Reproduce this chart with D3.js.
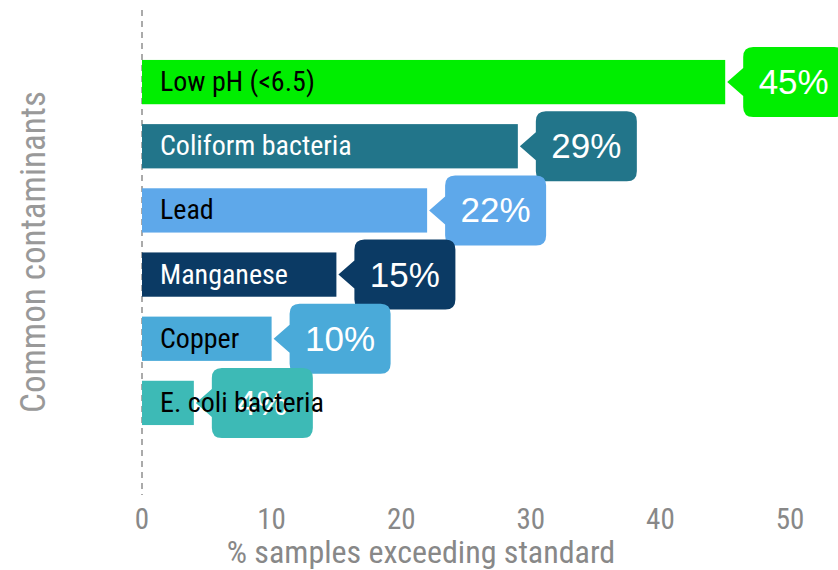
<!DOCTYPE html>
<html>
<head>
<meta charset="utf-8">
<script src="https://cdnjs.cloudflare.com/ajax/libs/d3/7.8.5/d3.min.js"></script>
<style>
    body { margin: 0; background: #fff; }
    .narrow { font-family: "Liberation Sans Narrow", "Roboto Condensed", "Arial Narrow", sans-serif; font-stretch: condensed; }
    .pct { font-family: "Liberation Sans", Arial, sans-serif; }
</style>
</head>
<body>
<div id="chart"></div>
<script>
var categories = ['Low pH (<6.5)', 'Coliform bacteria', 'Lead', 'Manganese', 'Copper', 'E. coli bacteria'];
var values = [45, 29, 22, 15, 10, 4];
var colors = ['#00ee00', '#22758a', '#5ea8ea', '#0b3a64', '#4aaad9', '#3dbab6'];
var labelColors = ['#000', '#fff', '#000', '#fff', '#000', '#000'];
var xTicks = [0, 10, 20, 30, 40, 50];

var width = 838, height = 570;

var svg = d3.select('#chart')
    .append('svg')
    .attr('width', width)
    .attr('height', height);

var x = d3.scaleLinear().domain([0, 50]).range([142, 790]);
var y = d3.scaleBand().domain(categories).range([50, 435])
    .paddingInner(0.31).paddingOuter(0.155);

// dashed zero line
svg.append('line')
    .attr('x1', x(0)).attr('x2', x(0))
    .attr('y1', 10).attr('y2', 495)
    .attr('stroke', '#aaa')
    .attr('stroke-width', 2)
    .attr('stroke-dasharray', '6,5');

var data = categories.map(function(c, i) {
    return { name: c, value: values[i], color: colors[i], label: labelColors[i] };
});

// bars
svg.selectAll('rect.bar')
    .data(data)
    .enter().append('rect')
    .attr('class', 'bar')
    .attr('x', x(0))
    .attr('y', function(d) { return y(d.name); })
    .attr('width', function(d) { return x(d.value) - x(0); })
    .attr('height', y.bandwidth())
    .attr('fill', function(d) { return d.color; });

// callouts
var boxW = 101, boxH = 70, gap = 16, arrowH = 14, r = 10;
function calloutPath(tipX, cy) {
    var l = tipX + gap, t = cy - boxH / 2, b = cy + boxH / 2, rr = l + boxW;
    return 'M' + tipX + ',' + cy +
        'L' + l + ',' + (cy - arrowH) +
        'L' + l + ',' + (t + r) +
        'Q' + l + ',' + t + ' ' + (l + r) + ',' + t +
        'L' + (rr - r) + ',' + t +
        'Q' + rr + ',' + t + ' ' + rr + ',' + (t + r) +
        'L' + rr + ',' + (b - r) +
        'Q' + rr + ',' + b + ' ' + (rr - r) + ',' + b +
        'L' + (l + r) + ',' + b +
        'Q' + l + ',' + b + ' ' + l + ',' + (b - r) +
        'L' + l + ',' + (cy + arrowH) + 'Z';
}

var call = svg.selectAll('g.callout')
    .data(data)
    .enter().append('g')
    .attr('class', 'callout');

call.append('path')
    .attr('d', function(d) { return calloutPath(x(d.value) + 2, y(d.name) + y.bandwidth() / 2); })
    .attr('fill', function(d) { return d.color; });

call.append('text')
    .attr('class', 'pct')
    .attr('x', function(d) { return x(d.value) + 2 + gap + boxW / 2; })
    .attr('y', function(d) { return y(d.name) + y.bandwidth() / 2 + 12; })
    .attr('text-anchor', 'middle')
    .attr('font-size', 35)
    .attr('fill', '#fff')
    .text(function(d) { return d.value + '%'; });

// category labels on top
svg.selectAll('text.cat')
    .data(data)
    .enter().append('text')
    .attr('class', 'cat narrow')
    .attr('x', 160)
    .attr('y', function(d) { return y(d.name) + y.bandwidth() / 2 + 9; })
    .attr('font-size', 28)
    .attr('fill', function(d) { return d.label; })
    .text(function(d) { return d.name; });

// x axis ticks
svg.selectAll('text.tick')
    .data(xTicks)
    .enter().append('text')
    .attr('class', 'tick narrow')
    .attr('x', function(d) { return x(d); })
    .attr('y', 529)
    .attr('text-anchor', 'middle')
    .attr('font-size', 29)
    .attr('fill', '#888')
    .text(function(d) { return d; });

svg.append('text')
    .attr('class', 'narrow')
    .attr('x', 421)
    .attr('y', 563)
    .attr('text-anchor', 'middle')
    .attr('font-size', 32)
    .attr('fill', '#888')
    .text('% samples exceeding standard');

svg.append('text')
    .attr('class', 'narrow')
    .attr('transform', 'translate(45,252) rotate(-90)')
    .attr('text-anchor', 'middle')
    .attr('font-size', 35)
    .attr('fill', '#999')
    .text('Common contaminants');
</script>
</body>
</html>
